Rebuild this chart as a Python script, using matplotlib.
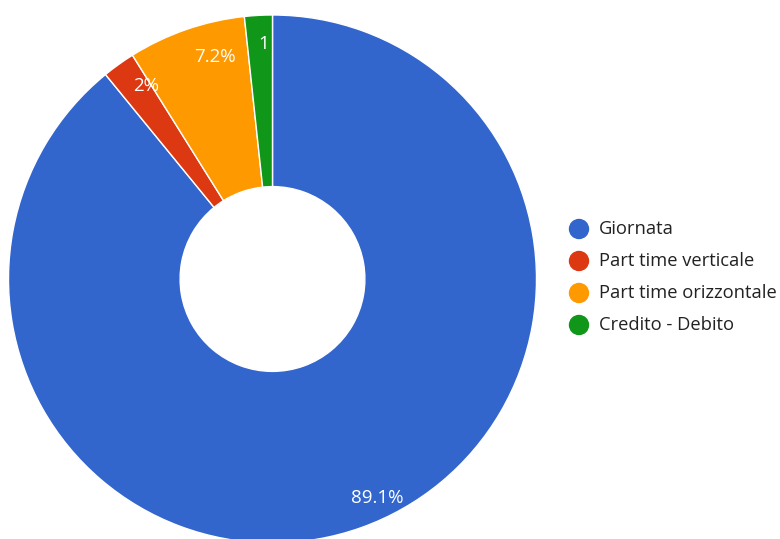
import matplotlib
matplotlib.use("Agg")
import matplotlib.pyplot as plt
from matplotlib.patches import Circle
import numpy as np

categories = ["Giornata", "Part time verticale", "Part time orizzontale", "Credito - Debito"]
values = [89.1, 2.0, 7.2, 1.7]
labels = ["89.1%", "2%", "7.2%", "1"]
colors = ["#3366cc", "#dc3912", "#ff9900", "#109618"]

W, H = 780, 539
fig = plt.figure(figsize=(W / 100, H / 100), dpi=100)
ax = fig.add_axes([0, 0, 1, 1])

cx, cy, R = 272.5, 279.0, 264.0  # pixel centre (from top) and radius
wedges, _ = ax.pie(values, colors=colors, startangle=90, counterclock=False,
                   radius=1.0, wedgeprops=dict(width=0.65, edgecolor="white", linewidth=1.0))
ax.set_aspect("auto")
ax.set_xlim(-cx / R, (W - cx) / R)
ax.set_ylim(-(H - cy) / R, cy / R)
ax.axis("off")

font = "Open Sans"
ang_off = [6.0, -2.5, -4.5, -1.0]
dist = [0.92, 0.875, 0.87, 0.89]
for w, lab, off, d in zip(wedges, labels, ang_off, dist):
    mid = np.deg2rad((w.theta1 + w.theta2) / 2 + off)
    ax.text(d * np.cos(mid), d * np.sin(mid), lab, color="white", fontsize=13.5,
            family=font, ha="center", va="center")

lx, ly0, dy = 579, 229, 32
for i, (cat, col) in enumerate(zip(categories, colors)):
    y = ly0 + i * dy
    fig.patches.append(Circle((lx, H - y), 9.5, transform=None, color=col))
    fig.text((lx + 20) / W, 1 - y / H, cat, fontsize=13.2, family=font,
             color="#222222", ha="left", va="center")

fig.savefig("out.png", dpi=100)
